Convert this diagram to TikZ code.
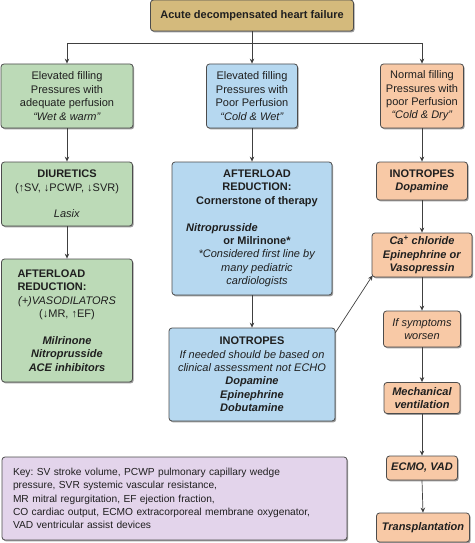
\documentclass[tikz,border=0pt]{standalone}
\usepackage{fontspec}
\setmainfont{Liberation Sans}
\usetikzlibrary{shadows,arrows.meta,calc}
\definecolor{tanc}{RGB}{212,186,124}
\definecolor{greenc}{RGB}{188,218,183}
\definecolor{bluec}{RGB}{182,216,240}
\definecolor{orangec}{RGB}{248,201,166}
\definecolor{purplec}{RGB}{227,212,235}
\frenchspacing
\begin{document}
\begin{tikzpicture}[x=1pt,y=-1pt,
  box/.style={draw=black!70, line width=0.8pt, rounded corners=3pt, align=center, inner sep=0pt,
    font=\fontsize{11}{13.4}\selectfont, text=black!88,
    drop shadow={shadow xshift=1.2pt, shadow yshift=-1.4pt, fill=black!55, opacity=0.7}},
  gbox/.style={box, fill=greenc},
  bbox/.style={box, fill=bluec},
  obox/.style={box, fill=orangec},
  arr/.style={draw=black!75, line width=0.7pt, -{Stealth[length=5pt,width=4.5pt]}},
  ln/.style={draw=black!75, line width=0.7pt}]
\useasboundingbox (0,0) rectangle (474,543);

% top
\node[box, fill=tanc, minimum width=203pt, minimum height=31pt, font=\fontsize{11}{13.4}\selectfont\bfseries] (top) at (252,15.5) {Acute decompensated heart failure};

% row 1
\node[gbox, minimum width=132pt, minimum height=64pt] (w1) at (67,96) {Elevated filling\\Pressures with\\adequate perfusion\\\textit{“Wet \& warm”}};
\node[bbox, minimum width=91pt, minimum height=64pt] (c1) at (252,96) {Elevated filling\\Pressures with\\Poor Perfusion\\\textit{“Cold \& Wet”}};
\node[obox, minimum width=83pt, minimum height=64pt] (n1) at (422,96) {Normal filling\\Pressures with\\poor Perfusion\\\textit{“Cold \& Dry”}};

% green column
\node[gbox, minimum width=131pt, minimum height=64pt] (w2) at (67,194) {\textbf{DIURETICS}\\(↑SV, ↓PCWP, ↓SVR)\\~\\\textit{Lasix}};
\node[gbox, minimum width=131pt, minimum height=123pt] (w3) at (67,320.5) {\makebox[99pt][l]{\textbf{AFTERLOAD}}\\\makebox[99pt][l]{\textbf{REDUCTION:}}\\\textit{(+)VASODILATORS}\\(↓MR, ↑EF)\\~\\\textbf{\textit{Milrinone}}\\\textbf{\textit{Nitroprusside}}\\\textbf{\textit{ACE inhibitors}}};

% blue column
\node[bbox, minimum width=160pt, minimum height=133pt] (c2) at (252,228.5) {\hspace*{10pt}\begin{tabular}{@{}c@{}}\textbf{AFTERLOAD}\\\textbf{REDUCTION:}\\\textbf{Cornerstone of therapy}\\~\\\hspace*{-70pt}\textbf{\textit{Nitroprusside}}\\\textbf{or Milrinone*}\\\textit{*Considered first line by}\\\textit{many pediatric}\\\textit{cardiologists}\end{tabular}};
\node[bbox, minimum width=166pt, minimum height=93pt] (c3) at (252,374.5) {\textbf{INOTROPES}\\\textit{If needed should be based on}\\\textit{clinical assessment not ECHO}\\\textbf{\textit{Dopamine}}\\\textbf{\textit{Epinephrine}}\\\textbf{\textit{Dobutamine}}};

% orange column
\node[obox, minimum width=91pt, minimum height=38pt] (n2) at (422,181) {\textbf{INOTROPES}\\\textbf{\textit{Dopamine}}};
\node[obox, minimum width=100pt, minimum height=44pt] (n3) at (422,255) {\textbf{\textit{Ca\textsuperscript{+} chloride}}\\\textbf{\textit{Epinephrine or}}\\\textbf{\textit{Vasopressin}}};
\node[obox, minimum width=77pt, minimum height=36pt] (n4) at (422,329) {\textit{If symptoms}\\\textit{worsen}};
\node[obox, minimum width=76pt, minimum height=31pt] (n5) at (422,398) {\textbf{\textit{Mechanical}}\\\textbf{\textit{ventilation}}};
\node[obox, minimum width=71pt, minimum height=24pt] (n6) at (422,468) {\textbf{\textit{ECMO, VAD}}};
\node[obox, minimum width=93pt, minimum height=29pt] (n7) at (423,527.5) {\textbf{\textit{Transplantation}}};

% key
\node[box, fill=purplec, minimum width=345pt, minimum height=83pt, text width=323pt, align=left, font=\fontsize{10.2}{13.4}\selectfont] (key) at (174.5,498.5) {\raisebox{-2pt}{\parbox{323pt}{Key: SV stroke volume, PCWP pulmonary capillary wedge\\pressure, SVR systemic vascular resistance,\\MR mitral regurgitation, EF ejection fraction,\\CO cardiac output, ECMO extracorporeal membrane oxygenator,\\VAD ventricular assist devices}}};

% connectors
\coordinate (j) at (252,43);
\draw[ln] (top.south) -- (j);
\draw[arr] (j) -- (c1.north);
\draw[arr] (j) -| (w1.north);
\draw[arr] (j) -| (n1.north);
\draw[arr] (w1.south) -- (w2.north);
\draw[arr] (w2.south) -- (w3.north);
\draw[arr] (c1.south) -- (c2.north);
\draw[arr] (c2.south) -- (c3.north);
\draw[arr] (n1.south) -- (n2.north);
\draw[arr] (n2.south) -- (n3.north);
\draw[arr] (n3.south) -- (n4.north);
\draw[arr] (n4.south) -- (n5.north);
\draw[arr] (n5.south) -- (n6.north);
\draw[arr] (n6.south) -- (n7.north);
\draw[arr] ($(c3.north east)+(0,5)$) -- ($(n3.south west)+(1,-2)$);
\end{tikzpicture}
\end{document}
